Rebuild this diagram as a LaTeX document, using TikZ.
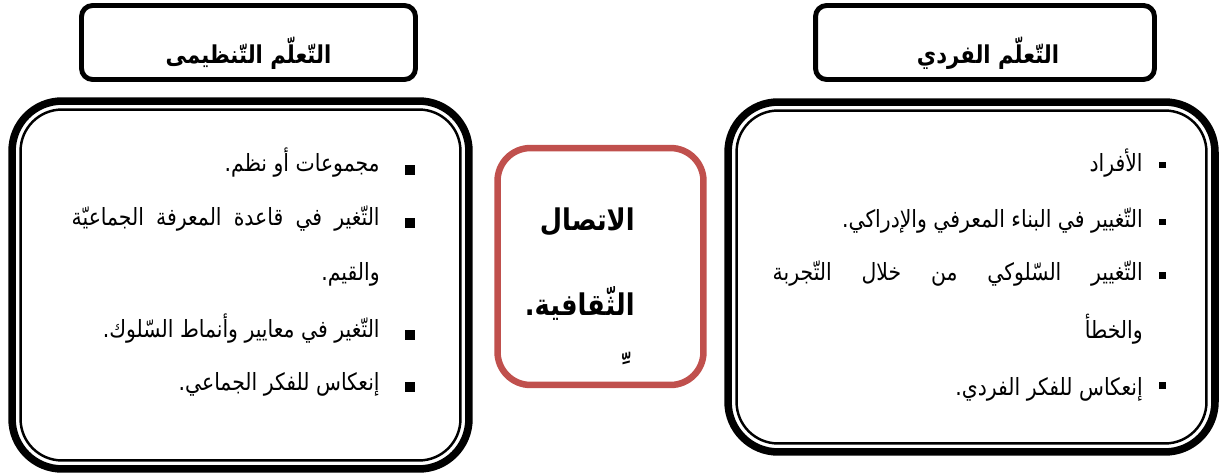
\documentclass[tikz,border=0pt]{standalone}
\usepackage{fontspec}
\usepackage{tikz}
\TeXXeTstate=1
\newfontfamily\arabicfont[Script=Arabic]{DejaVu Sans}
\newfontfamily\arabicnarrow[Script=Arabic, FakeStretch=0.86]{DejaVu Sans}
\definecolor{midred}{RGB}{192,80,77}

\begin{document}
\begin{tikzpicture}[x=0.02cm, y=-0.02cm,
    head/.style={rectangle, draw=black, line width=2.8pt, rounded corners=0.22cm, minimum height=1.48cm},
    framebox/.style={rectangle, draw=black, line width=4.3pt, rounded corners=1cm, outer sep=0pt},
    innerline/.style={draw=black, line width=1.4pt, rounded corners=0.83cm},
    midbox/.style={rectangle, draw=midred, line width=3.7pt, rounded corners=0.66cm, minimum width=4.12cm, minimum height=4.74cm},
    headtext/.style={font=\arabicnarrow\bfseries\fontsize{14}{16}\selectfont, anchor=base, inner sep=0pt},
    midtext/.style={font=\arabicnarrow\bfseries\fontsize{17}{19}\selectfont, anchor=base east, inner sep=0pt},
    item/.style={font=\arabicnarrow\fontsize{13.5}{15}\selectfont, anchor=base east, inner sep=0pt},
    bul/.style={rectangle, fill=black, inner sep=0pt, minimum size=0.19cm},
    sbul/.style={bul, minimum size=0.14cm}
  ]
  \useasboundingbox (0,0) rectangle (1219,476);

  \node[head, minimum width=6.68cm] (lhead) at (248.5,42.5) {};
  \node[headtext] (lheadtxt) at (248.5,64) {\beginR التّعلّم التّنظيمى\endR};
  \node[head, minimum width=6.78cm] (rhead) at (985,42.5) {};
  \node[headtext] (rheadtxt) at (988,64) {\beginR التّعلّم الفردي\endR};

  \node[framebox, minimum width=9.14cm, minimum height=7.36cm] (lbox) at (240.5,285) {};
  \draw[innerline] ([shift={(8.5,8.5)}]lbox.north west) rectangle ([shift={(-8.5,-8.5)}]lbox.south east);
  \node[framebox, minimum width=9.74cm, minimum height=7.0cm] (rbox) at (971.5,277) {};
  \draw[innerline] ([shift={(8.5,8.5)}]rbox.north west) rectangle ([shift={(-8.5,-8.5)}]rbox.south east);

  \node[midbox] (mid) at (600.5,266.5) {};
  \node[midtext] (m1) at (635,230) {\beginR الاتصال\endR};
  \node[midtext] (m2) at (635,315) {\beginR الثّقافية.\endR};
  \node[midtext] (m3) at (621,382) {\beginR ِّ\endR};

  \node[bul] (lb1) at (410,170) {};
  \node[item] (l1) at (380,172) {\beginR مجموعات أو نظم.\endR};
  \node[bul] (lb2) at (410,223) {};
  \node[item] (l2) at (380,225) {\makebox[6.16cm][s]{\beginR التّغير في قاعدة المعرفة الجماعيّة\endR}};
  \node[item] (l2b) at (380,280) {\beginR والقيم.\endR};
  \node[bul] (lb3) at (410,335) {};
  \node[item] (l3) at (380,337) {\beginR التّغير في معايير وأنماط السّلوك.\endR};
  \node[bul] (lb4) at (410,387) {};
  \node[item] (l4) at (380,390) {\beginR إنعكاس للفكر الجماعي.\endR};

  \node[sbul] (rb1) at (1162,165) {};
  \node[item] (r1) at (1143,172) {\beginR الأفراد\endR};
  \node[sbul] (rb2) at (1162,222) {};
  \node[item] (r2) at (1143,227) {\beginR التّغيير في البناء المعرفي والإدراكي.\endR};
  \node[sbul] (rb3) at (1162,275) {};
  \node[item] (r3) at (1143,280) {\makebox[7.4cm][s]{\beginR التّغيير السّلوكي من خلال التّجربة\endR}};
  \node[item] (r3b) at (1143,338) {\beginR والخطأ\endR};
  \node[sbul] (rb4) at (1162,385) {};
  \node[item] (r4) at (1143,395) {\beginR إنعكاس للفكر الفردي.\endR};
\end{tikzpicture}
\end{document}
